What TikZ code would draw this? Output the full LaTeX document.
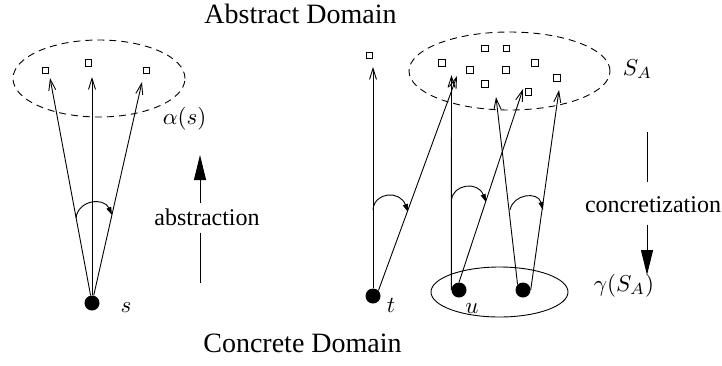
\documentclass[tikz,border=0pt]{standalone}
\usepackage{fontspec}
\setmainfont{Liberation Serif}
\usetikzlibrary{arrows.meta,shapes.geometric}
\begin{document}
\begin{tikzpicture}[x=1pt,y=-1pt,
  sq/.style={draw,rectangle,minimum size=6.5pt,inner sep=0pt,line width=0.9pt},
  blob/.style={circle,fill,minimum size=15pt,inner sep=0pt},
  ln/.style={line width=0.9pt},
  thinarrow/.style={ln,-{Straight Barb[length=11pt,width=7pt,line width=0.9pt]}},
  turnarrow/.style={ln,-{Triangle[length=8pt,width=5pt]}},
  bigarrow/.style={ln,-{Triangle[length=25pt,width=12pt]}},
  dashset/.style={ellipse,draw,ln,dash pattern=on 7pt off 5pt,inner sep=0pt},
  solidset/.style={ellipse,draw,ln,inner sep=0pt},
  ttl/.style={font=\fontsize{28}{32}\selectfont,anchor=base},
  lbl/.style={font=\fontsize{24}{28}\selectfont,anchor=base},
  mlbl/.style={font=\normalsize,scale=2.3,anchor=base,inner sep=0pt}
]
\useasboundingbox (0,0) rectangle (722,365);

% titles
\node[ttl] (abs) at (300.5,23) {Abstract Domain};
\node[ttl] (con) at (302.5,352) {Concrete Domain};

% ---------- left group ----------
\node[dashset,minimum width=172pt,minimum height=77pt] (setL) at (99,78.5) {};
\node[sq] (L1) at (45.5,70.5) {};
\node[sq] (L2) at (88.5,63) {};
\node[sq] (L3) at (146.5,70.5) {};
\node[blob] (s) at (92,303) {};
\coordinate (aL1) at (50,78);
\coordinate (aL2) at (92,77);
\coordinate (aL3) at (142,82);
\draw[thinarrow] (s) -- (aL1);
\draw[thinarrow] (s) -- (aL2);
\draw[thinarrow] (s) -- (aL3);
\draw[turnarrow] (76,218) .. controls (78,200) and (104,197) .. (112,215);
\node[mlbl] (alpha) at (184.5,124) {$\alpha(s)$};
\node[mlbl] (sl) at (126,312) {$s$};

% abstraction arrow
\node[lbl] (abst) at (207,225) {abstraction};
\coordinate (abT) at (200,155);
\coordinate (abB1) at (200,203);
\coordinate (abB2) at (200,233);
\coordinate (abB3) at (200,283);
\draw[bigarrow] (abB1) -- (abT);
\draw[ln] (abB2) -- (abB3);

% ---------- right group ----------
\node[dashset,minimum width=201pt,minimum height=78pt] (setR) at (509.5,71) {};
\node[sq] (R0) at (369.5,55.5) {};
\node[sq] (R1) at (485,48.3) {};
\node[sq] (R2) at (506.3,48.3) {};
\node[sq] (R3) at (442,63) {};
\node[sq] (R4) at (470,70) {};
\node[sq] (R5) at (506,70) {};
\node[sq] (R6) at (535,63) {};
\node[sq] (R7) at (485,84) {};
\node[sq] (R8) at (528.5,92) {};
\node[sq] (R9) at (557,78) {};
\node[mlbl] (SA) at (637.5,75) {$S_A$};

\node[solidset,minimum width=137pt,minimum height=50pt] (gam) at (499.5,292) {};
\node[blob] (t) at (373,296) {};
\node[blob] (u) at (459,290) {};
\node[blob] (v) at (523,290) {};
\node[mlbl] (tl) at (391,312) {$t$};
\node[mlbl] (ul) at (472,313) {$u$};
\node[mlbl] (gSA) at (624,291) {$\gamma(S_A)$};

\coordinate (aT1) at (373,67);
\coordinate (aT2) at (457,76);
\coordinate (aU1) at (451.5,75);
\coordinate (aU2) at (523,89);
\coordinate (aV1) at (496,97);
\coordinate (aV2) at (559,90);
\draw[thinarrow] (t) -- (aT1);
\draw[thinarrow] (t.north east) -- (aT2);
\draw[thinarrow] (u.west) -- (aU1);
\draw[thinarrow] (u.north) -- (aU2);
\draw[thinarrow] (v.north west) -- (aV1);
\draw[thinarrow] (v.east) -- (aV2);

\draw[turnarrow] (373,210) .. controls (374,192) and (400,190) .. (408,212);
\draw[turnarrow] (451.5,200) .. controls (453,184) and (478,181) .. (486,202);
\draw[turnarrow] (510,210) .. controls (513,194) and (538,191) .. (543,210);

% concretization arrow
\node[lbl] (conc) at (653,212) {concretization};
\coordinate (cT1) at (647,132);
\coordinate (cT2) at (647,182);
\coordinate (cB1) at (647,225);
\coordinate (cB2) at (647,275);
\draw[ln] (cT1) -- (cT2);
\draw[bigarrow] (cB1) -- (cB2);
\end{tikzpicture}
\end{document}
